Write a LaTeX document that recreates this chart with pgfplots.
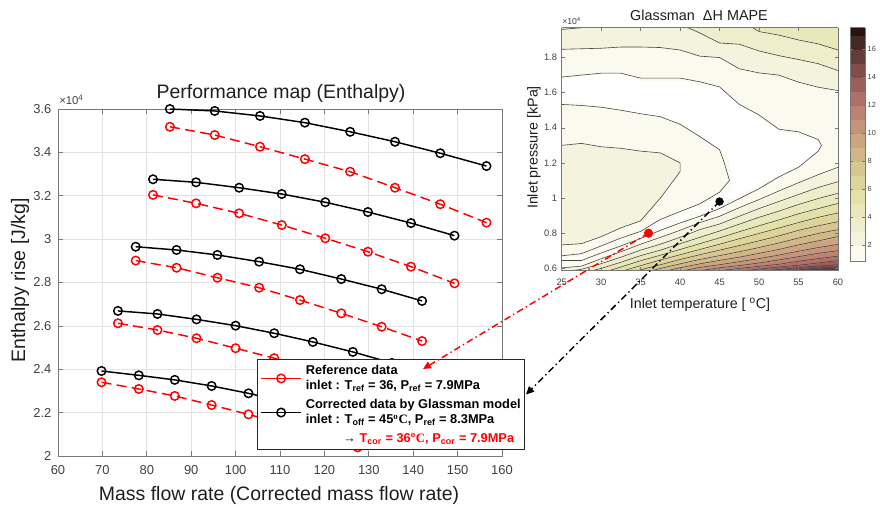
\documentclass[border=0pt]{standalone}
\usepackage{fontspec}
\setmainfont{Liberation Sans}
\newfontfamily\serifb{Liberation Serif}
\usepackage{pgfplots}
\pgfplotsset{compat=1.18}
\usetikzlibrary{arrows.meta}
\definecolor{tickgray}{RGB}{64,64,64}
\definecolor{axgray}{RGB}{120,120,120}
\definecolor{gridgray}{RGB}{226,226,226}
\definecolor{labgray}{RGB}{30,30,30}
\definecolor{cgray}{RGB}{70,70,70}
\tikzset{cline/.style={line width=0.45pt, draw=cgray}}
\pgfplotsset{colormap={mape}{rgb255(8pt)=(255,255,255) rgb255(10pt)=(250,250,238) rgb255(20pt)=(244,244,222) rgb255(30pt)=(238,238,205) rgb255(40pt)=(233,232,186) rgb255(50pt)=(228,225,168) rgb255(60pt)=(222,212,155) rgb255(70pt)=(216,198,145) rgb255(80pt)=(210,182,136) rgb255(90pt)=(204,165,128) rgb255(100pt)=(198,148,122) rgb255(110pt)=(190,130,116) rgb255(120pt)=(176,112,105) rgb255(130pt)=(155,95,90) rgb255(140pt)=(128,78,74) rgb255(150pt)=(100,60,57) rgb255(160pt)=(70,40,38) rgb255(170pt)=(40,18,18) rgb255(175pt)=(40,18,18)}}
\pgfplotstableread{
T P v
25 0.586 2.6
25 0.62 1.3
25 0.66 0.8
25 0.70 1.5
25 0.74 2.1
25 0.78 2.3
25 0.82 2.4
25 0.86 2.4
25 0.90 2.4
25 0.94 2.4
25 0.98 2.4
25 1.02 2.4
25 1.06 2.4
25 1.10 2.4
25 1.15 2.4
25 1.20 2.35
25 1.25 2.2
25 1.30 2.0
25 1.40 1.6
25 1.50 1.2
25 1.60 0.6
25 1.70 1.05
25 1.80 1.65
25 1.90 2.4
25 1.97 3.1
27.5 0.586 3.4
27.5 0.62 1.6
27.5 0.66 0.6
27.5 0.70 1.3
27.5 0.74 2.0
27.5 0.78 2.3
27.5 0.82 2.4
27.5 0.86 2.4
27.5 0.90 2.4
27.5 0.94 2.4
27.5 0.98 2.4
27.5 1.02 2.4
27.5 1.06 2.4
27.5 1.10 2.4
27.5 1.15 2.4
27.5 1.20 2.35
27.5 1.25 2.2
27.5 1.30 2.05
27.5 1.40 1.6
27.5 1.50 1.15
27.5 1.60 0.6
27.5 1.70 1.0
27.5 1.80 1.6
27.5 1.90 2.4
27.5 1.97 3.0
30 0.586 4.5
30 0.62 3.2
30 0.66 1.8
30 0.70 0.6
30 0.74 1.2
30 0.78 2.0
30 0.82 2.3
30 0.86 2.4
30 0.90 2.4
30 0.94 2.4
30 0.98 2.4
30 1.02 2.4
30 1.06 2.4
30 1.10 2.4
30 1.15 2.4
30 1.20 2.35
30 1.25 2.25
30 1.30 1.95
30 1.40 1.55
30 1.50 1.1
30 1.60 0.5
30 1.70 0.95
30 1.80 1.6
30 1.90 2.35
30 1.97 3.0
32.5 0.586 5.8
32.5 0.62 4.5
32.5 0.66 3.1
32.5 0.70 1.8
32.5 0.74 0.6
32.5 0.78 1.1
32.5 0.82 1.9
32.5 0.86 2.3
32.5 0.90 2.4
32.5 0.94 2.4
32.5 0.98 2.4
32.5 1.02 2.4
32.5 1.06 2.4
32.5 1.10 2.4
32.5 1.15 2.4
32.5 1.20 2.35
32.5 1.25 2.2
32.5 1.30 1.9
32.5 1.40 1.5
32.5 1.50 1.0
32.5 1.60 0.5
32.5 1.70 0.95
32.5 1.80 1.55
32.5 1.90 2.3
32.5 1.97 2.95
35 0.586 7.2
35 0.62 5.8
35 0.66 4.4
35 0.70 3.1
35 0.74 1.9
35 0.78 0.7
35 0.82 1.1
35 0.86 1.9
35 0.90 2.3
35 0.94 2.4
35 0.98 2.4
35 1.02 2.4
35 1.06 2.4
35 1.10 2.4
35 1.15 2.35
35 1.20 2.3
35 1.25 2.1
35 1.30 1.8
35 1.40 1.4
35 1.50 0.9
35 1.60 0.5
35 1.70 1.1
35 1.80 1.55
35 1.90 2.3
35 1.97 2.9
37.5 0.586 8.6
37.5 0.62 7.0
37.5 0.66 5.5
37.5 0.70 4.1
37.5 0.74 2.9
37.5 0.78 1.9
37.5 0.82 0.9
37.5 0.86 0.5
37.5 0.90 1.4
37.5 0.94 1.8
37.5 0.98 1.9
37.5 1.02 2.1
37.5 1.06 2.2
37.5 1.10 2.2
37.5 1.15 2.2
37.5 1.20 2.2
37.5 1.25 2.05
37.5 1.30 1.7
37.5 1.40 1.25
37.5 1.50 0.85
37.5 1.60 0.5
37.5 1.70 1.1
37.5 1.80 1.6
37.5 1.90 2.3
37.5 1.97 2.9
40 0.586 9.8
40 0.62 8.2
40 0.66 6.6
40 0.70 5.2
40 0.74 4.0
40 0.78 2.9
40 0.82 1.9
40 0.86 0.95
40 0.90 0.5
40 0.94 1.2
40 0.98 1.5
40 1.02 1.6
40 1.06 1.7
40 1.10 1.9
40 1.15 2.0
40 1.20 2.0
40 1.25 1.9
40 1.30 1.6
40 1.40 1.1
40 1.50 0.6
40 1.60 0.5
40 1.70 1.1
40 1.80 1.7
40 1.90 2.4
40 1.97 2.95
42.5 0.586 11.0
42.5 0.62 9.2
42.5 0.66 7.6
42.5 0.70 6.2
42.5 0.74 5.0
42.5 0.78 3.9
42.5 0.82 2.9
42.5 0.86 2.0
42.5 0.90 1.1
42.5 0.94 0.5
42.5 0.98 1.1
42.5 1.02 1.3
42.5 1.06 1.4
42.5 1.10 1.5
42.5 1.15 1.5
42.5 1.20 1.5
42.5 1.25 1.4
42.5 1.30 1.2
42.5 1.40 0.8
42.5 1.50 0.5
42.5 1.60 0.6
42.5 1.70 1.25
42.5 1.80 1.95
42.5 1.90 2.6
42.5 1.97 3.3
45 0.586 12.0
45 0.62 10.0
45 0.66 8.4
45 0.70 7.1
45 0.74 5.9
45 0.78 4.8
45 0.82 3.8
45 0.86 2.8
45 0.90 1.9
45 0.94 1.0
45 0.98 0.4
45 1.02 0.9
45 1.06 1.2
45 1.10 1.3
45 1.15 1.3
45 1.20 1.2
45 1.25 1.1
45 1.30 0.9
45 1.40 0.5
45 1.50 0.5
45 1.60 0.8
45 1.70 1.4
45 1.80 2.0
45 1.90 3.2
45 1.97 3.6
47.5 0.586 12.8
47.5 0.62 10.7
47.5 0.66 9.1
47.5 0.70 7.8
47.5 0.74 6.7
47.5 0.78 5.7
47.5 0.82 4.7
47.5 0.86 3.8
47.5 0.90 2.9
47.5 0.94 2.1
47.5 0.98 1.3
47.5 1.02 0.6
47.5 1.06 0.4
47.5 1.10 0.7
47.5 1.15 0.6
47.5 1.20 0.4
47.5 1.25 0.4
47.5 1.30 0.4
47.5 1.40 0.4
47.5 1.50 0.8
47.5 1.60 1.4
47.5 1.70 1.8
47.5 1.80 2.35
47.5 1.90 3.2
47.5 1.97 3.8
50 0.586 13.6
50 0.62 11.4
50 0.66 9.8
50 0.70 8.5
50 0.74 7.4
50 0.78 6.4
50 0.82 5.5
50 0.86 4.6
50 0.90 3.8
50 0.94 3.0
50 0.98 2.2
50 1.02 1.5
50 1.06 0.9
50 1.10 0.5
50 1.15 0.4
50 1.20 0.3
50 1.25 0.3
50 1.30 0.3
50 1.40 0.6
50 1.50 1.15
50 1.60 1.5
50 1.70 1.9
50 1.80 2.7
50 1.90 3.5
50 1.97 4.1
52.5 0.586 14.5
52.5 0.62 12.1
52.5 0.66 10.5
52.5 0.70 9.2
52.5 0.74 8.1
52.5 0.78 7.1
52.5 0.82 6.2
52.5 0.86 5.3
52.5 0.90 4.5
52.5 0.94 3.7
52.5 0.98 3.0
52.5 1.02 2.3
52.5 1.06 1.7
52.5 1.10 1.2
52.5 1.15 0.7
52.5 1.20 0.4
52.5 1.25 0.35
52.5 1.30 0.4
52.5 1.40 1.05
52.5 1.50 1.3
52.5 1.60 1.65
52.5 1.70 2.0
52.5 1.80 2.9
52.5 1.90 3.8
52.5 1.97 4.3
55 0.586 15.4
55 0.62 12.8
55 0.66 11.2
55 0.70 9.9
55 0.74 8.8
55 0.78 7.8
55 0.82 6.9
55 0.86 6.0
55 0.90 5.2
55 0.94 4.4
55 0.98 3.7
55 1.02 3.0
55 1.06 2.4
55 1.10 1.8
55 1.15 1.2
55 1.20 0.8
55 1.25 0.5
55 1.30 0.5
55 1.40 1.15
55 1.50 1.35
55 1.60 1.7
55 1.70 2.2
55 1.80 3.1
55 1.90 4.0
55 1.97 4.5
57.5 0.586 16.2
57.5 0.62 13.4
57.5 0.66 11.8
57.5 0.70 10.5
57.5 0.74 9.4
57.5 0.78 8.4
57.5 0.82 7.5
57.5 0.86 6.6
57.5 0.90 5.8
57.5 0.94 5.0
57.5 0.98 4.3
57.5 1.02 3.6
57.5 1.06 3.0
57.5 1.10 2.4
57.5 1.15 1.8
57.5 1.20 1.3
57.5 1.25 1.05
57.5 1.30 0.9
57.5 1.40 1.2
57.5 1.50 1.45
57.5 1.60 1.8
57.5 1.70 2.45
57.5 1.80 3.3
57.5 1.90 4.2
57.5 1.97 4.7
60 0.586 17.0
60 0.62 14.0
60 0.66 12.3
60 0.70 11.0
60 0.74 9.9
60 0.78 8.9
60 0.82 8.0
60 0.86 7.1
60 0.90 6.3
60 0.94 5.5
60 0.98 4.8
60 1.02 4.1
60 1.06 3.5
60 1.10 2.9
60 1.15 2.2
60 1.20 1.8
60 1.25 1.6
60 1.30 1.5
60 1.40 1.5
60 1.50 1.7
60 1.60 1.9
60 1.70 2.75
60 1.80 3.7
60 1.90 4.4
60 1.97 4.8
}\mapetable
\begin{document}
\begin{tikzpicture}[x=0.75pt,y=-0.75pt]
\path[use as bounding box] (0,0) rectangle (880,506);
\clip (0,0) rectangle (880,506);
% ---------------- left: performance map ----------------
\begin{axis}[
  at={(43.5pt,-342pt)}, anchor=south west,
  scale only axis, width=333pt, height=260.25pt,
  xmin=60, xmax=160, ymin=2, ymax=3.6, clip=false,
  xtick={60,70,80,90,100,110,120,130,140,150,160},
  ytick={2,2.2,2.4,2.6,2.8,3,3.2,3.4,3.6},
  grid=major, grid style={gridgray, line width=0.5pt},
  axis line style={axgray, line width=0.6pt},
  tick style={axgray, line width=0.5pt}, tick align=inside, major tick length=3.5pt,
  tick label style={font=\fontsize{9.7}{11}\selectfont, text=tickgray},
  xticklabel style={yshift=-3.5pt},
  yticklabel style={xshift=-1.5pt},
  /pgf/number format/assume math mode=true,
  legend style={at={(0.4482,0.2795)}, anchor=north west, draw=black!85, line width=1.1pt,
    fill=white, inner xsep=2pt, inner ysep=3pt, row sep=3.5pt,
    font=\fontsize{9.6}{11.6}\selectfont\bfseries,
    nodes={align=left, inner sep=1pt},
    /tikz/every odd column/.append style={column sep=2pt}},
  legend cell align=left,
  legend image code/.code={\draw[mark repeat=2,mark phase=2,#1] plot coordinates {(0pt,0pt) (15pt,0pt) (30pt,0pt)};},
  every axis plot/.append style={line width=1.1pt, mark=o, mark size=3.2pt, mark options={solid}},
]
\addplot[black, forget plot] coordinates {(85.2,3.600) (95.3,3.591) (105.5,3.568) (115.6,3.537) (125.8,3.495) (135.9,3.449) (146.1,3.396) (156.5,3.337)};
\addplot[red, dash pattern=on 7.5pt off 4pt, forget plot] coordinates {(85.2,3.518) (95.3,3.480) (105.5,3.426) (115.6,3.369) (125.8,3.311) (135.9,3.237) (146.1,3.161) (156.5,3.076)};
\addplot[black, forget plot] coordinates {(81.4,3.276) (91.1,3.262) (100.8,3.237) (110.4,3.208) (120.2,3.170) (129.8,3.125) (139.5,3.074) (149.3,3.016)};
\addplot[red, dash pattern=on 7.5pt off 4pt, forget plot] coordinates {(81.4,3.204) (91.1,3.165) (100.8,3.119) (110.4,3.065) (120.2,3.004) (129.8,2.942) (139.5,2.873) (149.3,2.796)};
\addplot[black, forget plot] coordinates {(77.5,2.965) (86.7,2.950) (95.9,2.927) (105.3,2.896) (114.5,2.861) (123.8,2.816) (132.9,2.769) (142.0,2.715)};
\addplot[red, dash pattern=on 7.5pt off 4pt, forget plot] coordinates {(77.5,2.901) (86.7,2.868) (95.9,2.822) (105.3,2.776) (114.5,2.719) (123.8,2.658) (132.9,2.596) (142.0,2.530)};
\addplot[black, forget plot] coordinates {(73.5,2.669) (82.4,2.655) (91.2,2.630) (100.0,2.601) (108.7,2.566) (117.4,2.526) (126.4,2.480) (135.2,2.429)};
\addplot[red, dash pattern=on 7.5pt off 4pt, forget plot] coordinates {(73.5,2.612) (82.4,2.581) (91.2,2.543) (100.0,2.497) (108.7,2.451) (117.4,2.400) (126.4,2.345) (135.2,2.287)};
\addplot[black, forget plot] coordinates {(69.8,2.392) (78.2,2.372) (86.3,2.351) (94.6,2.323) (102.9,2.289) (111.1,2.250) (119.3,2.205) (127.5,2.155)};
\addplot[red, dash pattern=on 7.5pt off 4pt, forget plot] coordinates {(69.8,2.340) (78.2,2.309) (86.3,2.277) (94.6,2.235) (102.9,2.192) (111.1,2.145) (119.3,2.095) (127.5,2.040)};
\addlegendimage{red, line width=1.1pt, mark=o, mark size=3.2pt}
\addlegendentry{Reference data\\inlet : T\textsubscript{ref} = 36, P\textsubscript{ref} = 7.9MPa}
\addlegendimage{black, line width=1.1pt, mark=o, mark size=3.2pt}
\addlegendentry{Corrected data by Glassman model\\inlet : T\textsubscript{off} = 45{\serifb\textsuperscript{o}C}, P\textsubscript{ref} = 8.3MPa}
\addlegendimage{empty legend}
\addlegendentry{\hspace*{28pt}{\mdseries →} \textcolor{red}{T\textsubscript{cor} = 36{\serifb\textsuperscript{o}C}, P\textsubscript{cor} = 7.9MPa}}
\end{axis}
% ---------------- right: contour map ----------------
\begin{axis}[
  at={(421.275pt,-203.025pt)}, anchor=south west,
  scale only axis, width=207.2pt, height=182.25pt,
  view={0}{90}, axis on top,
  xmin=25, xmax=60, ymin=0.586, ymax=1.97,
  xtick={25,30,35,40,45,50,55,60},
  ytick={0.6,0.8,1,1.2,1.4,1.6,1.8},
  axis line style={axgray, line width=0.5pt},
  tick style={axgray, line width=0.4pt}, tick align=inside, major tick length=2.5pt,
  tick label style={font=\fontsize{7}{8}\selectfont, text=tickgray},
  xticklabel style={yshift=-3pt},
  /pgf/number format/assume math mode=true,
  colormap name=mape, colormap access=piecewise constant,
  point meta min=0.8, point meta max=17.5,
  colorbar,
  colorbar style={scale only axis, at={(parent axis.north east)}, anchor=north west,
    xshift=0.5pt, width=11.25pt, height=175.5pt,
    ytick={2,4,6,8,10,12,14,16},
    axis line style={axgray, line width=0.5pt},
    tick style={axgray}, major tick length=2pt,
    yticklabel style={font=\fontsize{5.5}{6}\selectfont, text=tickgray, xshift=-1.5pt},
    /pgf/number format/assume math mode=true},
]
\addplot3[surf, shader=interp, mesh/ordering=y varies, mesh/rows=25, mesh/cols=15]
  table[x=T, y=P, z=v] {\mapetable};
% contour lines of the same field
\addplot3[cline] coordinates {(25,0.602,0) (27.5,0.612,0) (30,0.654,0) (32.5,0.694,0) (35,0.737,0) (37.5,0.776,0) (40,0.816,0) (42.5,0.86,0) (45,0.896,0) (47.5,0.945,0) (50,0.991,0) (52.5,1.04,0) (55,1.087,0) (57.5,1.133,0) (60,1.175,0)};
\addplot3[cline] coordinates {(26.25,0.586,0) (27.5,0.594,0) (30,0.626,0) (32.5,0.663,0) (35,0.703,0) (37.5,0.737,0) (40,0.776,0) (42.5,0.82,0) (45,0.852,0) (47.5,0.896,0) (50,0.94,0) (52.5,0.98,0) (55,1.02,0) (57.5,1.06,0) (60,1.093,0)};
\addplot3[cline] coordinates {(28.86,0.586,0) (30,0.599,0) (32.5,0.634,0) (35,0.672,0) (37.5,0.703,0) (40,0.74,0) (42.5,0.776,0) (45,0.812,0) (47.5,0.851,0) (50,0.89,0) (52.5,0.925,0) (55,0.963,0) (57.5,0.997,0) (60,1.027,0)};
\addplot3[cline] coordinates {(30.96,0.586,0) (32.5,0.607,0) (35,0.643,0) (37.5,0.674,0) (40,0.707,0) (42.5,0.74,0) (45,0.773,0) (47.5,0.808,0) (50,0.842,0) (52.5,0.875,0) (55,0.91,0) (57.5,0.94,0) (60,0.969,0)};
\addplot3[cline] coordinates {(32.86,0.586,0) (35,0.615,0) (37.5,0.647,0) (40,0.677,0) (42.5,0.707,0) (45,0.737,0) (47.5,0.768,0) (50,0.798,0) (52.5,0.829,0) (55,0.86,0) (57.5,0.89,0) (60,0.915,0)};
\addplot3[cline] coordinates {(34.64,0.586,0) (35,0.591,0) (37.5,0.62,0) (40,0.65,0) (42.5,0.677,0) (45,0.703,0) (47.5,0.729,0) (50,0.756,0) (52.5,0.784,0) (55,0.816,0) (57.5,0.842,0) (60,0.865,0)};
\addplot3[cline] coordinates {(36.43,0.586,0) (37.5,0.599,0) (40,0.625,0) (42.5,0.65,0) (45,0.672,0) (47.5,0.694,0) (50,0.718,0) (52.5,0.744,0) (55,0.772,0) (57.5,0.798,0) (60,0.82,0)};
\addplot3[cline] coordinates {(38.33,0.586,0) (40,0.603,0) (42.5,0.625,0) (45,0.645,0) (47.5,0.663,0) (50,0.685,0) (52.5,0.707,0) (55,0.733,0) (57.5,0.756,0) (60,0.78,0)};
\addplot3[cline] coordinates {(40.42,0.586,0) (42.5,0.605,0) (45,0.62,0) (47.5,0.6375,0) (50,0.655,0) (52.5,0.675,0) (55,0.697,0) (57.5,0.718,0) (60,0.736,0)};
\addplot3[cline] coordinates {(42.5,0.586,0) (45,0.603,0) (47.5,0.615,0) (50,0.63,0) (52.5,0.6475,0) (55,0.666,0) (57.5,0.685,0) (60,0.70,0)};
\addplot3[cline] coordinates {(45,0.586,0) (47.5,0.599,0) (50,0.611,0) (52.5,0.6225,0) (55,0.64,0) (57.5,0.655,0) (60,0.669,0)};
\addplot3[cline] coordinates {(48.13,0.586,0) (50,0.595,0) (52.5,0.607,0) (55,0.617,0) (57.5,0.63,0) (60,0.6435,0)};
\addplot3[cline] coordinates {(51.11,0.586,0) (52.5,0.593,0) (55,0.604,0) (57.5,0.6127,0) (60,0.62,0)};
\addplot3[cline] coordinates {(53.89,0.586,0) (55,0.591,0) (57.5,0.6006,0) (60,0.609,0)};
\addplot3[cline] coordinates {(56.88,0.586,0) (57.5,0.588,0) (60,0.597,0)};
% level 1 (outer, white region)
\addplot3[cline] coordinates {(25,1.689,0) (27.5,1.70,0) (30,1.711,0) (32.5,1.711,0) (35,1.683,0) (37.5,1.683,0) (40,1.683,0) (42.5,1.662,0) (45,1.633,0) (47.5,1.533,0) (50,1.473,0) (52.5,1.392,0) (55,1.377,0) (57.5,1.333,0) (57.9,1.30,0) (57.5,1.267,0) (55,1.175,0) (52.5,1.12,0) (50,1.053,0) (47.5,0.997,0) (45,0.94,0) (42.5,0.896,0) (40,0.858,0) (37.5,0.816,0) (35,0.77,0) (32.5,0.727,0) (30,0.687,0) (27.5,0.644,0) (25,0.644,0)};
% level 1 (inner)
\addplot3[cline] coordinates {(25,1.533,0) (27.5,1.527,0) (30,1.517,0) (32.5,1.50,0) (35,1.48,0) (37.5,1.463,0) (40,1.42,0) (42.5,1.35,0) (45,1.275,0) (45.6,1.20,0) (46.25,1.10,0) (45,1.033,0) (42.5,0.967,0) (40,0.923,0) (37.5,0.878,0) (35,0.81,0) (32.5,0.772,0) (30,0.727,0) (27.5,0.683,0) (25,0.671,0)};
% level 2 (inner region)
\addplot3[cline] coordinates {(25,1.30,0) (27.5,1.311,0) (30,1.292,0) (32.5,1.283,0) (35,1.267,0) (37.5,1.257,0) (40,1.2,0) (40,1.15,0) (37.5,1.0,0) (35,0.87,0) (32.5,0.83,0) (30,0.78,0) (27.5,0.74,0) (25,0.733,0)};
% levels 2, 3, 4 (upper)
\addplot3[cline] coordinates {(25,1.847,0) (27.5,1.85,0) (30,1.853,0) (32.5,1.86,0) (35,1.86,0) (37.5,1.857,0) (40,1.843,0) (42.5,1.808,0) (45,1.80,0) (47.5,1.736,0) (50,1.7125,0) (52.5,1.70,0) (55,1.66,0) (57.5,1.631,0) (60,1.612,0)};
\addplot3[cline] coordinates {(25,1.96,0) (27.5,1.97,0)};
\addplot3[cline] coordinates {(41,1.97,0) (42.5,1.94,0) (45,1.883,0) (47.5,1.876,0) (50,1.8375,0) (52.5,1.811,0) (55,1.789,0) (57.5,1.765,0) (60,1.726,0)};
\addplot3[cline] coordinates {(49.2,1.97,0) (50,1.948,0) (52.5,1.928,0) (55,1.90,0) (57.5,1.878,0) (60,1.843,0)};
\addplot3[only marks, mark=*, mark size=3.2pt, red] coordinates {(36,0.80,0)};
\addplot3[only marks, mark=*, mark size=2.9pt, black] coordinates {(45,0.98,0)};
\coordinate (rdot) at (axis cs:36,0.80,0);
\coordinate (bdot) at (axis cs:45,0.98,0);
\end{axis}
% ---------------- titles and labels ----------------
\node[anchor=base, font=\fontsize{14.6}{16}\selectfont, text=labgray] at (281,99) {Performance map (Enthalpy)};
\node[anchor=base, font=\fontsize{14.6}{16}\selectfont, text=labgray] at (279,500.5) {Mass flow rate (Corrected mass flow rate)};
\node[anchor=base, rotate=90, font=\fontsize{14.6}{16}\selectfont, text=labgray] at (25,280.5) {Enthalpy rise [J/kg]};
\node[anchor=base west, inner sep=0pt, font=\fontsize{8.5}{10}\selectfont, text=tickgray] at (59,104.5) {×10\textsuperscript{4}};
\node[anchor=base, font=\fontsize{10.8}{12}\selectfont, text=labgray] at (699,21) {Glassman \ ΔH MAPE};
\node[anchor=base, font=\fontsize{10.7}{12}\selectfont, text=labgray] at (700,308.3) {Inlet temperature [ \textsuperscript{o}C]};
\node[anchor=base, rotate=90, font=\fontsize{10.7}{12}\selectfont, text=labgray] at (537.5,147.5) {Inlet pressure [kPa]};
\node[anchor=base west, inner sep=0pt, font=\fontsize{6.5}{8}\selectfont, text=tickgray] at (562,25) {×10\textsuperscript{4}};
% ---------------- annotation arrows ----------------
\draw[red, line width=1.1pt, dash pattern=on 5pt off 2.5pt on 1pt off 2.5pt, -{Triangle[length=6pt,width=5.5pt]}] (rdot) -- (423,369);
\draw[black, line width=1.1pt, dash pattern=on 5pt off 2.5pt on 1pt off 2.5pt, -{Triangle[length=6pt,width=5.5pt]}] (bdot) -- (526,394.5);
\end{tikzpicture}
\end{document}
